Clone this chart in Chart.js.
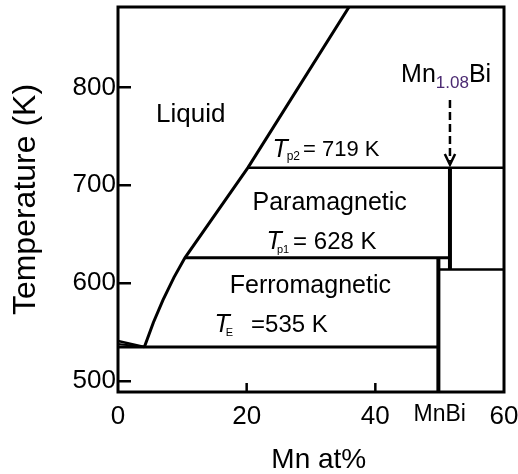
<!DOCTYPE html>
<html>
<head>
<meta charset="utf-8">
<script src="https://cdn.jsdelivr.net/npm/chart.js@4.4.0/dist/chart.umd.min.js"></script>
<style>
  html, body { margin: 0; padding: 0; background: #fff; }
  canvas { display: block; }
</style>
</head>
<body>
<canvas id="phaseChart" width="518" height="474"></canvas>
<script>
// axis ticks
const xTicks = [0, 20, 40, 50, 60];
const xTickLabels = ["0", "20", "40", "MnBi", "60"];
const xInnerTicks = [20, 40];
const yTicks = [500, 600, 700, 800];

// phase boundaries: Mn at% and temperature (K)
const liquidusX = [4.1, 5.5, 7.0, 8.7, 10.4, 20.2, 36.1];
const liquidusT = [535, 560, 583, 606, 626, 718, 884];
const biLiquidusX = [0, 4.1];
const biLiquidusT = [541, 535];
const biLiquidus2X = [0, 4.1];
const biLiquidus2T = [538, 535];
const eutecticX = [0, 49.8];
const eutecticT = [535, 535];
const tp1X = [10.4, 51.6];
const tp1T = [626, 626];
const tp2X = [20.2, 60];
const tp2T = [718, 718];
const mnbiX = [49.8, 49.8];
const mnbiT = [489, 626];
const mn108X = [51.6, 51.6];
const mn108T = [614, 718];
const rightX = [49.8, 60];
const rightT = [614, 614];
const arrowX = [51.6, 51.6];
const arrowT = [787, 724];
const headX = [50.8, 51.6, 52.4];
const headT = [732, 721, 732];

const FONT = "'Liberation Sans', Arial, sans-serif";
Chart.defaults.font.family = FONT;
Chart.defaults.color = "#000";

function pts(xs, ts) {
  return xs.map((x, i) => ({ x: x, y: ts[i] }));
}

function line(xs, ts, width, extra) {
  return Object.assign({
    data: pts(xs, ts),
    showLine: true,
    borderColor: "#000",
    borderWidth: width,
    pointRadius: 0,
    tension: 0,
    clip: 0
  }, extra || {});
}

// draws a run of text pieces side by side
function rich(ctx, x, y, parts) {
  let cx = x;
  parts.forEach(p => {
    ctx.font = p.font;
    ctx.fillStyle = p.color || "#000";
    ctx.fillText(p.text, cx, y + (p.dy || 0));
    cx += ctx.measureText(p.text).width + (p.gap || 0);
  });
}

const framePlugin = {
  id: "frame",
  afterDatasetsDraw(chart) {
    const { ctx, chartArea: a, scales } = chart;
    const sx = scales.x, sy = scales.y;
    ctx.save();
    ctx.strokeStyle = "#000";
    ctx.lineWidth = 3;
    ctx.strokeRect(a.left, a.top, a.right - a.left, a.bottom - a.top);
    ctx.lineWidth = 2.5;
    ctx.beginPath();
    yTicks.forEach(v => {
      const p = sy.getPixelForValue(v);
      ctx.moveTo(a.left, p);
      ctx.lineTo(a.left + 13, p);
    });
    xInnerTicks.forEach(v => {
      const p = sx.getPixelForValue(v);
      ctx.moveTo(p, a.bottom);
      ctx.lineTo(p, a.bottom - 9);
    });
    ctx.stroke();

    const at = (x, t) => [sx.getPixelForValue(x), sy.getPixelForValue(t)];
    const ital = "italic 25px " + FONT;
    ctx.textBaseline = "middle";

    ctx.textAlign = "center";
    ctx.font = "26px " + FONT;
    let p = at(11.3, 772);
    ctx.fillText("Liquid", p[0], p[1]);
    ctx.font = "25px " + FONT;
    p = at(32.9, 682);
    ctx.fillText("Paramagnetic", p[0], p[1]);
    p = at(29.9, 597);
    ctx.fillText("Ferromagnetic", p[0], p[1]);

    ctx.textAlign = "left";
    p = at(24.0, 736);
    rich(ctx, p[0], p[1], [
      { text: "T", font: ital, gap: -1 },
      { text: "p2", font: "12px " + FONT, dy: 7, gap: 3 },
      { text: "= 719 K", font: "22px " + FONT }
    ]);
    p = at(23.1, 642);
    rich(ctx, p[0], p[1], [
      { text: "T", font: ital, gap: -5 },
      { text: "p1", font: "11px " + FONT, dy: 8, gap: 4 },
      { text: "= 628 K", font: "24px " + FONT }
    ]);
    p = at(15.0, 557);
    rich(ctx, p[0], p[1], [
      { text: "T", font: ital, gap: -4 },
      { text: "E", font: "11px " + FONT, dy: 8, gap: 18 },
      { text: "=535 K", font: "24px " + FONT }
    ]);
    p = at(44.0, 812);
    rich(ctx, p[0], p[1], [
      { text: "Mn", font: "25px " + FONT },
      { text: "1.08", font: "17px " + FONT, dy: 8, color: "#4b2a72" },
      { text: "Bi", font: "25px " + FONT }
    ]);
    ctx.restore();
  }
};

new Chart(document.getElementById("phaseChart"), {
  type: "scatter",
  data: {
    datasets: [
      line(liquidusX, liquidusT, 3),
      line(biLiquidusX, biLiquidusT, 2.5),
      line(biLiquidus2X, biLiquidus2T, 2),
      line(eutecticX, eutecticT, 3),
      line(tp1X, tp1T, 3),
      line(tp2X, tp2T, 2.5),
      line(mnbiX, mnbiT, 4),
      line(mn108X, mn108T, 4),
      line(rightX, rightT, 2.5),
      line(arrowX, arrowT, 2.5, { borderDash: [8, 4] }),
      line(headX, headT, 2.5)
    ]
  },
  options: {
    responsive: false,
    animation: false,
    layout: { padding: { top: 7, right: 14, left: 0, bottom: 0 } },
    plugins: { legend: { display: false }, tooltip: { enabled: false } },
    scales: {
      x: {
        type: "linear",
        min: 0,
        max: 60,
        afterFit: s => { s.height = 82; s.paddingLeft = 0; s.paddingRight = 0; },
        afterBuildTicks: s => { s.ticks = xTicks.map(v => ({ value: v })); },
        grid: { display: false, drawTicks: false },
        border: { display: false },
        ticks: {
          padding: 9,
          maxRotation: 0,
          autoSkip: false,
          font: c => ({ size: c.tick && c.tick.value === 50 ? 23 : 26 }),
          callback: v => xTickLabels[xTicks.indexOf(v)]
        },
        title: {
          display: true,
          text: "  Mn at%",
          font: { size: 28, lineHeight: 1 },
          padding: { top: 0, bottom: 0 }
        }
      },
      y: {
        type: "linear",
        min: 489,
        max: 882,
        afterFit: s => { s.width = 118; s.paddingTop = 0; s.paddingBottom = 0; },
        afterBuildTicks: s => { s.ticks = yTicks.map(v => ({ value: v })); },
        grid: { display: false, drawTicks: false },
        border: { display: false },
        ticks: { padding: 2, font: { size: 26 } },
        title: {
          display: true,
          text: "Temperature (K)",
          font: { size: 32, lineHeight: 1 },
          padding: { top: 10, bottom: 0 }
        }
      }
    }
  },
  plugins: [framePlugin]
});
</script>
</body>
</html>
